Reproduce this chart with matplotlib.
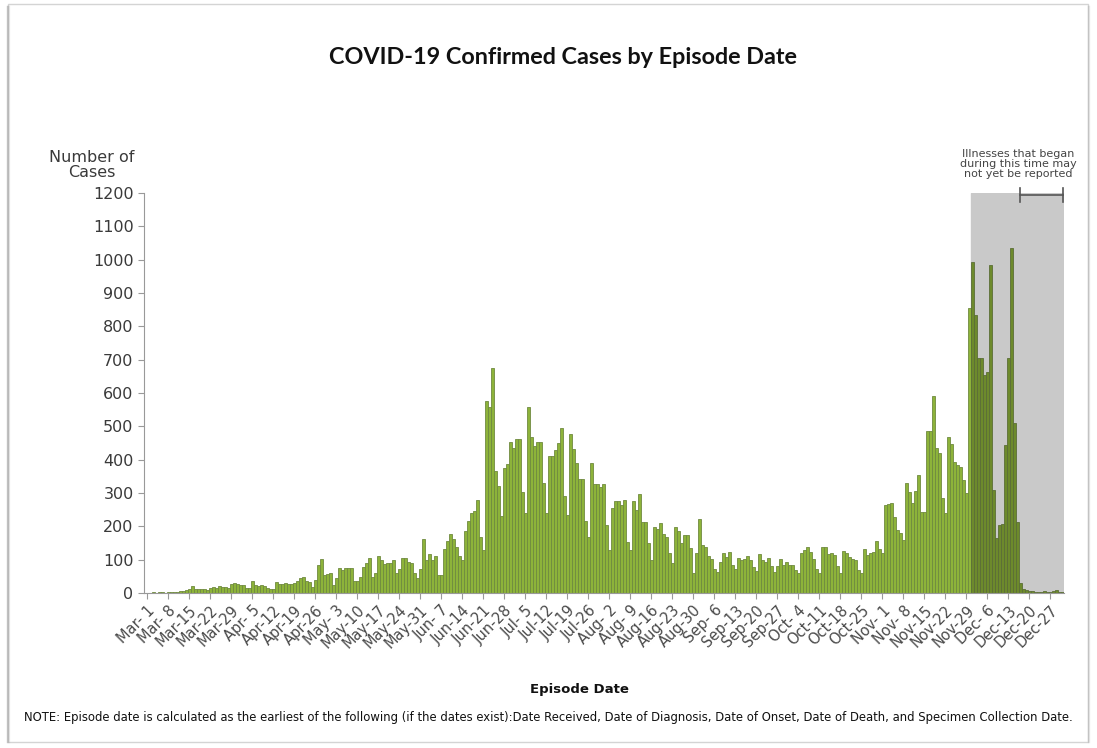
import matplotlib
matplotlib.use("Agg")
import matplotlib.pyplot as plt
import numpy as np
import pandas as pd
from matplotlib.patches import Rectangle

# daily confirmed cases, Mar 1 - Dec 31
mar = [1, 0, 2, 1, 3, 2, 1, 3, 2, 4, 3, 5, 7, 8, 12, 22, 12, 11, 11, 12, 10,
       15, 19, 15, 22, 17, 18, 16, 27, 29, 26]
apr = [25, 24, 14, 15, 37, 25, 21, 24, 22, 14, 11, 12, 34, 28, 27, 29, 26, 28,
       30, 37, 45, 47, 36, 32, 19, 40, 84, 101, 55, 57]
may = [59, 24, 45, 74, 69, 74, 74, 74, 37, 37, 49, 77, 91, 104, 49, 61, 111,
       100, 86, 89, 89, 99, 61, 71, 104, 104, 92, 89, 60, 44, 71]
jun = [162, 99, 117, 99, 111, 54, 54, 131, 157, 177, 161, 137, 110, 99, 186,
       217, 239, 245, 279, 169, 129, 577, 557, 676, 367, 321, 231, 374, 387, 454]
jul = [434, 462, 462, 304, 240, 559, 467, 441, 454, 454, 329, 239, 412, 412,
       430, 451, 496, 291, 234, 476, 431, 389, 342, 342, 217, 167, 389, 326,
       326, 319, 326]
aug = [204, 129, 254, 276, 276, 264, 279, 154, 129, 276, 249, 297, 212, 212,
       149, 99, 199, 191, 209, 177, 167, 120, 89, 199, 186, 149, 174, 174, 134,
       59, 119]
sep = [221, 144, 137, 111, 101, 71, 64, 94, 119, 109, 124, 84, 71, 104, 99,
       101, 111, 100, 79, 65, 117, 99, 94, 104, 80, 64, 80, 101, 84, 94]
oct_ = [84, 84, 70, 61, 119, 130, 139, 124, 101, 71, 60, 139, 137, 117, 120,
        114, 80, 61, 126, 121, 107, 101, 98, 69, 59, 132, 114, 119, 124, 157, 132]
nov = [120, 264, 266, 269, 229, 189, 180, 159, 329, 304, 271, 307, 354, 244,
       244, 486, 486, 591, 434, 420, 284, 239, 469, 446, 394, 384, 379, 340,
       299, 855]
dec = [994, 834, 704, 704, 654, 664, 984, 309, 164, 204, 206, 444, 704, 1034,
       509, 214, 30, 12, 8, 6, 5, 4, 3, 4, 5, 3, 4, 7, 8, 4, 2]

cases = mar + apr + may + jun + jul + aug + sep + oct_ + nov + dec
dates = pd.date_range("2020-03-01", "2020-12-31", freq="D")
shade_start = pd.Timestamp("2020-12-01")   # illnesses may not yet be reported
bracket_start = pd.Timestamp("2020-12-17")

x = np.arange(len(dates))
in_shade = dates >= shade_start
tick_pos = x[::7]
tick_labels = ["%s-%2d" % (d.strftime("%b"), d.day) for d in dates[::7]]

fig = plt.figure(figsize=(10.97, 7.48), dpi=100)

# frame with a soft shadow
fig.patches.append(Rectangle((8 / 1097, 6 / 748), 1080 / 1097, 738 / 748,
                             transform=fig.transFigure, fill=False,
                             edgecolor="#d4d4d4", lw=1))
for i, a in enumerate([0.55, 0.35, 0.15]):
    fig.lines.append(plt.Line2D([(7 + i) / 1097] * 2, [6 / 748, 742 / 748],
                                transform=fig.transFigure, color="#999999",
                                alpha=a, lw=1))
for i, a in enumerate([0.35, 0.2]):
    fig.lines.append(plt.Line2D([(1088 + i) / 1097] * 2, [6 / 748, 742 / 748],
                                transform=fig.transFigure, color="#aaaaaa",
                                alpha=a, lw=1))

ax = fig.add_axes([144 / 1097, 1 - 593 / 748, 920 / 1097, 400 / 748])

s0 = int(np.argmax(in_shade))
ax.axvspan(s0 - 0.5, len(x) - 0.5, color="#c9c9c9", zorder=0)

colors = np.where(in_shade, "#6d8a2c", "#8db33a")
edges = np.where(in_shade, "#5b6e36", "#6f8a3f")
ax.bar(x, cases, width=1.0, color=colors, edgecolor=edges, linewidth=0.6,
       zorder=2)

# bracket over the most recent days
b0 = int(np.argmax(dates >= bracket_start))
bk = dict(color="#555555", lw=1.2, clip_on=False, zorder=5)
ax.plot([b0, len(x) - 0.7], [1194, 1194], **bk)
ax.plot([b0, b0], [1172, 1216], **bk)
ax.plot([len(x) - 0.7] * 2, [1172, 1216], **bk)

ax.set_xlim(-1.1, len(x) - 0.5)
ax.set_ylim(0, 1200)
ax.set_yticks(range(0, 1201, 100))
ax.set_xticks(tick_pos)
ax.set_xticklabels(tick_labels, rotation=45, ha="right",
                   rotation_mode="anchor", fontsize=10.5, color="#4a4a4a")
ax.tick_params(axis="y", labelsize=11.5, labelcolor="#3a3a3a",
               color="#999999", length=4)
ax.tick_params(axis="x", color="#999999", length=4, pad=3)
for s in ["top", "right"]:
    ax.spines[s].set_visible(False)
for s in ["left", "bottom"]:
    ax.spines[s].set_color("#999999")

fig.text(563 / 1097, 1 - 57 / 748, "COVID-19 Confirmed Cases by Episode Date",
         ha="center", va="center", fontsize=16.8, fontweight="bold",
         family="Lato", color="#111111")
fig.text(92 / 1097, 1 - 165 / 748, "Number of\nCases", ha="center",
         va="center", fontsize=11.5, color="#3a3a3a", linespacing=1.0)
fig.text(1018 / 1097, 1 - 164 / 748,
         "Illnesses that began\nduring this time may\nnot yet be reported",
         ha="center", va="center", fontsize=8, color="#444444",
         linespacing=1.05)
fig.text(579 / 1097, 1 - 690 / 748, "Episode Date", ha="center", va="center",
         fontsize=9.5, fontweight="bold", color="#111111")
fig.text(548 / 1097, 1 - 717 / 748,
         "NOTE: Episode date is calculated as the earliest of the following "
         "(if the dates exist):Date Received, Date of Diagnosis, Date of Onset, "
         "Date of Death, and Specimen Collection Date.",
         ha="center", va="center", fontsize=8.4, color="#111111")

fig.savefig("out.png", dpi=100)
